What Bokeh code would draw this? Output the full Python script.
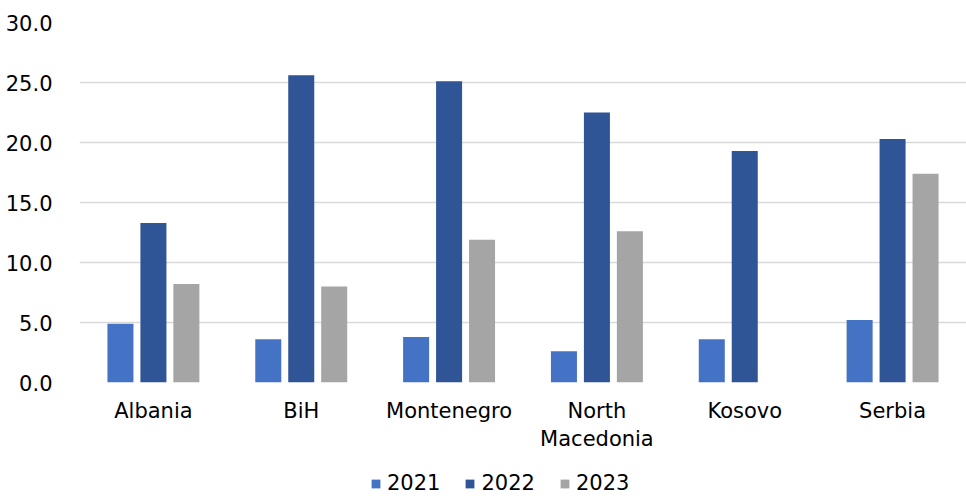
from bokeh.plotting import figure
from bokeh.layouts import column
from bokeh.models import ColumnDataSource, FactorRange, Legend, LegendItem, SingleIntervalTicker, NumeralTickFormatter
from bokeh.transform import dodge
from bokeh.embed import file_html
from bokeh.resources import INLINE

categories = ["Albania", "BiH", "Montenegro", "North\nMacedonia", "Kosovo", "Serbia"]
v2021 = [4.9, 3.6, 3.8, 2.6, 3.6, 5.2]
v2022 = [13.3, 25.6, 25.1, 22.5, 19.3, 20.3]
v2023 = [8.2, 8.0, 11.9, 12.6, float("nan"), 17.4]
series_names = ["2021", "2022", "2023"]
colors = ["#4472C4", "#2F5597", "#A5A5A5"]

src = ColumnDataSource(dict(cat=categories, y2021=v2021, y2022=v2022, y2023=v2023))

FONT = "DejaVu Sans"
FS = "21px"

p = figure(x_range=FactorRange(*categories, range_padding=0), y_range=(0, 30),
           width=966, height=460, output_backend="svg", toolbar_location=None,
           min_border_left=79, min_border_right=0, min_border_top=22, min_border_bottom=78)
p.x_range.range_padding = 0

offsets = [-0.223, 0.0, 0.223]
for name, col, off in zip(series_names, colors, offsets):
    p.vbar(x=dodge("cat", off, range=p.x_range), top="y" + name, width=0.176,
           source=src, fill_color=col, line_color=None)

p.outline_line_color = None
p.background_fill_color = "white"
p.border_fill_color = "white"

p.yaxis.ticker = SingleIntervalTicker(interval=5)
p.yaxis.formatter = NumeralTickFormatter(format="0.0")
p.yaxis.axis_line_color = None
p.yaxis.major_tick_line_color = None
p.yaxis.minor_tick_line_color = None
p.yaxis.major_label_standoff = 21
p.yaxis.major_label_text_font = FONT
p.yaxis.major_label_text_font_size = FS
p.yaxis.major_label_text_color = "#000000"

p.xaxis.axis_line_color = None
p.xaxis.major_tick_line_color = None
p.xaxis.major_label_standoff = 10
p.xaxis.major_label_text_font = FONT
p.xaxis.major_label_text_font_size = FS
p.xaxis.major_label_text_color = "#000000"

p.xgrid.grid_line_color = None
p.ygrid.grid_line_color = "#D9D9D9"
p.ygrid.grid_line_width = 1.5

# legend strip (zero-height dummy bars only feed the legend)
p2 = figure(width=966, height=36, output_backend="svg", toolbar_location=None,
            x_range=(0, 1), y_range=(0, 1),
            min_border_left=0, min_border_right=0, min_border_top=0, min_border_bottom=0)
p2.xaxis.visible = False
p2.yaxis.visible = False
p2.axis.axis_line_color = None
p2.axis.major_tick_line_color = None
p2.axis.minor_tick_line_color = None
p2.grid.grid_line_color = None
p2.outline_line_color = None
p2.background_fill_color = "white"
p2.border_fill_color = "white"
items = []
for name, col in zip(series_names, colors):
    r = p2.vbar(x=[0.5], top=[0], bottom=[0], width=0.1, fill_color=col, line_color=None)
    items.append(LegendItem(label=name, renderers=[r]))

legend = Legend(items=items, orientation="horizontal", location=(291, 1),
                label_text_font=FONT, label_text_font_size=FS, label_text_color="#000000",
                glyph_width=11, glyph_height=11, label_standoff=6, spacing=24,
                padding=0, margin=0, border_line_color=None, background_fill_alpha=0)
p2.add_layout(legend, "center")

open("out.html", "w").write(file_html(column(p, p2, spacing=0), INLINE))
